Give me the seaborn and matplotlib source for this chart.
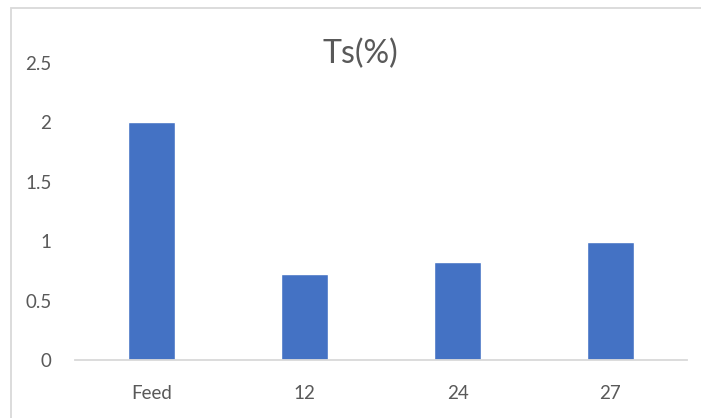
import matplotlib
matplotlib.use('Agg')
import matplotlib.pyplot as plt
import seaborn as sns
import pandas as pd
from matplotlib.patches import Rectangle

# data
categories = ['Feed', '12', '24', '27']
ts_values = [2.0, 0.72, 0.825, 0.99]
y_ticks = [0, 0.5, 1, 1.5, 2, 2.5]
y_tick_labels = ['0', '0.5', '1', '1.5', '2', '2.5']

sns.set_style('white')
plt.rcParams['font.family'] = ['Lato', 'DejaVu Sans']

text_col = '#595959'
line_col = '#D9D9D9'

df = pd.DataFrame({'cat': categories, 'ts': ts_values})

fig = plt.figure(figsize=(7.01, 4.18), dpi=100)
ax = fig.add_axes([0.107, 0.139, 0.873, 0.71])

sns.barplot(data=df, x='cat', y='ts', color='#4472C4', width=0.31,
            saturation=1, ax=ax)

ax.set_ylim(0, 2.5)
ax.set_xlim(-0.5, 3.5)
ax.set_yticks(y_ticks)
ax.set_yticklabels(y_tick_labels)
ax.set_xlabel('')
ax.set_ylabel('')

for s in ['top', 'right', 'left']:
    ax.spines[s].set_visible(False)
ax.spines['bottom'].set_color(line_col)
ax.spines['bottom'].set_linewidth(1.3)

ax.tick_params(axis='y', length=0, pad=17, labelsize=13.5, labelcolor=text_col)
ax.tick_params(axis='x', length=0, pad=18, labelsize=13.5, labelcolor=text_col)

# chart title
fig.text(0.514, 0.871, 'Ts(%)', ha='center', va='center',
         fontsize=23, color=text_col)

# chart area border (cut by image edge on right/bottom)
fig.patches.append(Rectangle((11 / 701, -0.05), 1.1, 1.05 - 8 / 418,
                             transform=fig.transFigure, fill=False,
                             edgecolor=line_col, linewidth=1.3))

fig.savefig('out.png', dpi=100)
plt.close(fig)
